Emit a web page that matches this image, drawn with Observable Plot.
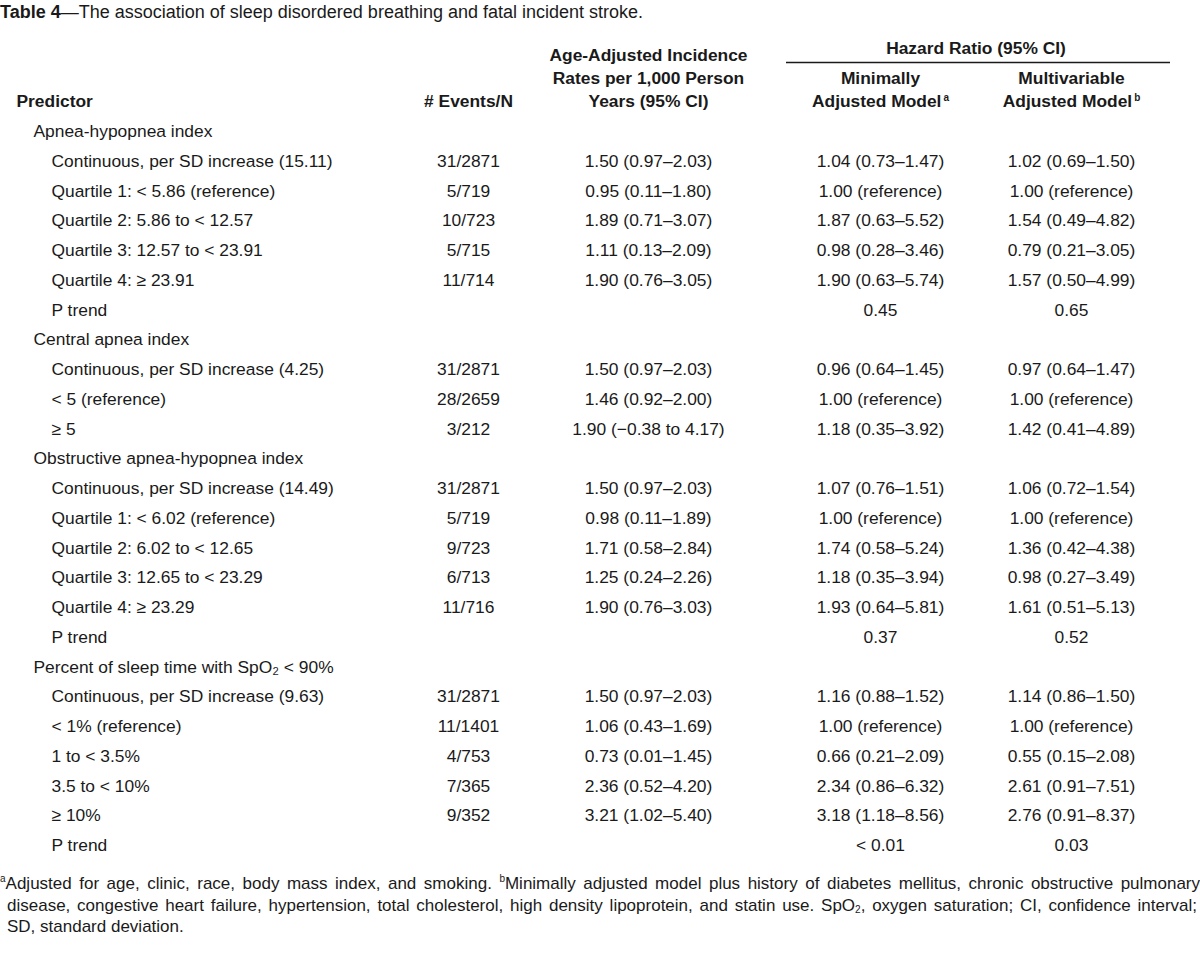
<!DOCTYPE html>
<html>
<head>
<meta charset="utf-8">
<script src="https://cdn.jsdelivr.net/npm/d3@7"></script>
<script src="https://cdn.jsdelivr.net/npm/@observablehq/plot@0.6"></script>
<style>
  html, body { margin: 0; padding: 0; background: #fff; }
  body { width: 1200px; color: #1a1a1a; font-family: "Liberation Sans", Arial, sans-serif; }
  .title { font-size: 18px; line-height: 24px; height: 24px; white-space: nowrap; }
  .title b { font-weight: bold; }
  #chart svg { display: block; }
  .foot { font-size: 17px; line-height: 21.5px; }
  .foot .j { text-align: justify; text-align-last: justify; }
  .foot .l1 { width: 1200px; }
  .foot .l2 { width: 1190px; padding-left: 7px; }
  .foot .l3 { padding-left: 7px; white-space: nowrap; }
  .foot sup { font-size: 10px; line-height: 0; vertical-align: 7px; }
  .foot sub { font-size: 10px; line-height: 0; vertical-align: -2px; }
</style>
</head>
<body>
<div class="title"><b>Table 4</b>—The association of sleep disordered breathing and fatal incident stroke.</div>
<div id="chart"></div>
<div class="foot">
  <div class="j l1"><sup>a</sup>Adjusted for age, clinic, race, body mass index, and smoking. <sup>b</sup>Minimally adjusted model plus history of diabetes mellitus, chronic obstructive pulmonary</div>
  <div class="j l2">disease, congestive heart failure, hypertension, total cholesterol, high density lipoprotein, and statin use. SpO<sub>2</sub>, oxygen saturation; CI, confidence interval;</div>
  <div class="l3">SD, standard deviation.</div>
</div>
<script>
// ---- Data ----
const labels = [
  "Apnea-hypopnea index",
  "Continuous, per SD increase (15.11)",
  "Quartile 1: < 5.86 (reference)",
  "Quartile 2: 5.86 to < 12.57",
  "Quartile 3: 12.57 to < 23.91",
  "Quartile 4: ≥ 23.91",
  "P trend",
  "Central apnea index",
  "Continuous, per SD increase (4.25)",
  "< 5 (reference)",
  "≥ 5",
  "Obstructive apnea-hypopnea index",
  "Continuous, per SD increase (14.49)",
  "Quartile 1: < 6.02 (reference)",
  "Quartile 2: 6.02 to < 12.65",
  "Quartile 3: 12.65 to < 23.29",
  "Quartile 4: ≥ 23.29",
  "P trend",
  "Percent of sleep time with SpO₂ < 90%",
  "Continuous, per SD increase (9.63)",
  "< 1% (reference)",
  "1 to < 3.5%",
  "3.5 to < 10%",
  "≥ 10%",
  "P trend"
];
const levels = [0,1,1,1,1,1,1, 0,1,1,1, 0,1,1,1,1,1,1, 0,1,1,1,1,1,1];
const events = [
  "", "31/2871", "5/719", "10/723", "5/715", "11/714", "",
  "", "31/2871", "28/2659", "3/212",
  "", "31/2871", "5/719", "9/723", "6/713", "11/716", "",
  "", "31/2871", "11/1401", "4/753", "7/365", "9/352", ""
];
const rates = [
  "", "1.50 (0.97–2.03)", "0.95 (0.11–1.80)", "1.89 (0.71–3.07)", "1.11 (0.13–2.09)", "1.90 (0.76–3.05)", "",
  "", "1.50 (0.97–2.03)", "1.46 (0.92–2.00)", "1.90 (−0.38 to 4.17)",
  "", "1.50 (0.97–2.03)", "0.98 (0.11–1.89)", "1.71 (0.58–2.84)", "1.25 (0.24–2.26)", "1.90 (0.76–3.03)", "",
  "", "1.50 (0.97–2.03)", "1.06 (0.43–1.69)", "0.73 (0.01–1.45)", "2.36 (0.52–4.20)", "3.21 (1.02–5.40)", ""
];
const minAdj = [
  "", "1.04 (0.73–1.47)", "1.00 (reference)", "1.87 (0.63–5.52)", "0.98 (0.28–3.46)", "1.90 (0.63–5.74)", "0.45",
  "", "0.96 (0.64–1.45)", "1.00 (reference)", "1.18 (0.35–3.92)",
  "", "1.07 (0.76–1.51)", "1.00 (reference)", "1.74 (0.58–5.24)", "1.18 (0.35–3.94)", "1.93 (0.64–5.81)", "0.37",
  "", "1.16 (0.88–1.52)", "1.00 (reference)", "0.66 (0.21–2.09)", "2.34 (0.86–6.32)", "3.18 (1.18–8.56)", "< 0.01"
];
const multiAdj = [
  "", "1.02 (0.69–1.50)", "1.00 (reference)", "1.54 (0.49–4.82)", "0.79 (0.21–3.05)", "1.57 (0.50–4.99)", "0.65",
  "", "0.97 (0.64–1.47)", "1.00 (reference)", "1.42 (0.41–4.89)",
  "", "1.06 (0.72–1.54)", "1.00 (reference)", "1.36 (0.42–4.38)", "0.98 (0.27–3.49)", "1.61 (0.51–5.13)", "0.52",
  "", "1.14 (0.86–1.50)", "1.00 (reference)", "0.55 (0.15–2.08)", "2.61 (0.91–7.51)", "2.76 (0.91–8.37)", "0.03"
];
const headerLine1 = [{col: "rate", text: "Age-Adjusted Incidence"}];
const headerLine2 = [
  {col: "rate", text: "Rates per 1,000 Person"},
  {col: "min", text: "Minimally"},
  {col: "multi", text: "Multivariable"}
];
const headerLine3 = [
  {col: "events", text: "# Events/N"},
  {col: "rate", text: "Years (95% CI)"},
  {col: "min", text: "Adjusted Model", sup: "a"},
  {col: "multi", text: "Adjusted Model", sup: "b"}
];
const predictorHeader = ["Predictor"];
const spanner = ["Hazard Ratio (95% CI)"];

// ---- Layout (positions/styles, not data) ----
const colX = {head: 16, group: 33, sub: 51, events: 468, rate: 648, min: 880, multi: 1071};
const ink = "#1a1a1a";

const rows = labels.map((label, i) => ({
  i, label, level: levels[i],
  events: events[i], rate: rates[i], min: minAdj[i], multi: multiAdj[i]
}));

const common = {fill: ink, lineAnchor: "middle"};
const bold = {...common, fontWeight: "bold"};

const svg = Plot.plot({
  width: 1200,
  height: 849,
  margin: 0,
  x: {type: "linear", domain: [0, 1200], range: [0, 1200], axis: null},
  y: {type: "linear", domain: [0, 24], range: [107, 821], axis: null},
  style: {
    fontFamily: '"Liberation Sans", Arial, sans-serif',
    fontSize: "17.4px",
    background: "#fff",
    color: ink
  },
  marks: [
    // header
    Plot.text(headerLine1, {...bold, x: d => colX[d.col], frameAnchor: "top", dy: 31, text: "text"}),
    Plot.text(spanner, {...bold, x: () => (colX.min + colX.multi) / 2, frameAnchor: "top", dy: 24, text: d => d}),
    Plot.ruleY([0], {x1: () => colX.min - 94, x2: () => colX.multi + 99, dy: 38 - 107, stroke: ink, strokeWidth: 1.3}),
    Plot.text(headerLine2, {...bold, x: d => colX[d.col], frameAnchor: "top", dy: 54, text: "text"}),
    Plot.text(headerLine3, {...bold, x: d => colX[d.col], frameAnchor: "top", dy: 77, text: "text"}),
    Plot.text(predictorHeader, {...bold, x: () => colX.head, frameAnchor: "top", dy: 77, text: d => d, textAnchor: "start"}),
    // body
    Plot.text(rows, {...common, x: d => d.level ? colX.sub : colX.group, y: "i", text: "label", textAnchor: "start"}),
    Plot.text(rows, {...common, x: () => colX.events, y: "i", text: "events"}),
    Plot.text(rows, {...common, x: () => colX.rate, y: "i", text: "rate"}),
    Plot.text(rows, {...common, x: () => colX.min, y: "i", text: "min"}),
    Plot.text(rows, {...common, x: () => colX.multi, y: "i", text: "multi"})
  ]
});

// superscripts on "Adjusted Model"
const supQueue = headerLine3.filter(d => d.sup).map(d => d.sup);
svg.querySelectorAll("text").forEach(t => {
  if (t.textContent === "Adjusted Model" && supQueue.length) {
    const ts = document.createElementNS("http://www.w3.org/2000/svg", "tspan");
    ts.setAttribute("font-size", "10");
    ts.setAttribute("font-weight", "bold");
    ts.setAttribute("dy", "-6");
    ts.textContent = "\u2009" + supQueue.shift();
    t.appendChild(ts);
  }
});

document.getElementById("chart").appendChild(svg);
</script>
</body>
</html>
